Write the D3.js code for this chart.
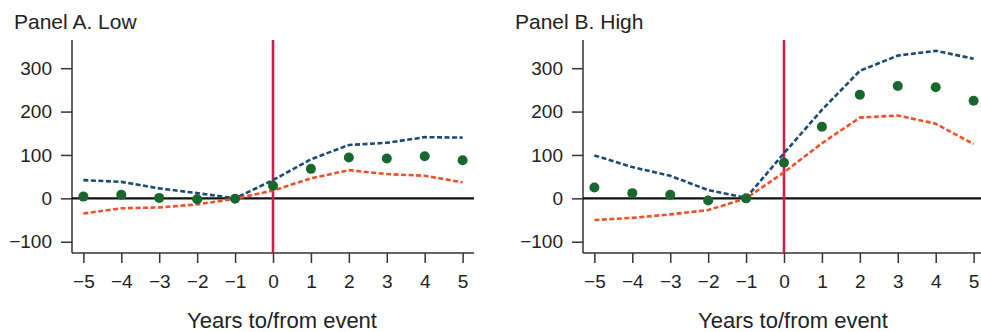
<!DOCTYPE html>
<html>
<head>
<meta charset="utf-8">
<script src="https://cdn.jsdelivr.net/npm/d3@7"></script>
<style>
  body { margin: 0; background: #fff; }
  svg { display: block; }
</style>
</head>
<body>
<svg width="981" height="332"></svg>
<script>
// data
const years = [-5, -4, -3, -2, -1, 0, 1, 2, 3, 4, 5];
const yTicks = [-100, 0, 100, 200, 300];

const lowUpper = [42, 38, 23, 12, 0, 42, 90, 123, 128, 141, 140];
const lowLower = [-35, -23, -21, -14, -1, 18, 46, 65, 56, 52, 37];
const lowPoint = [4, 8, 1, -2, -1, 29, 68, 94, 92, 97, 88];

const highUpper = [99, 72, 52, 19, 1, 104, 204, 294, 329, 340, 322];
const highLower = [-50, -45, -37, -27, 0, 60, 127, 186, 191, 172, 125];
const highPoint = [25, 12, 8, -5, 0, 82, 165, 239, 259, 256, 225];

const panels = [
    { title: 'Panel A. Low', left: 72, titleX: 14, upper: lowUpper, lower: lowLower, point: lowPoint },
    { title: 'Panel B. High', left: 583, titleX: 515, upper: highUpper, lower: highLower, point: highPoint }
];

const font = '"Liberation Sans", Arial, Helvetica, sans-serif';
const svg = d3.select('svg').attr('font-family', font);
const plotTop = 40, plotBottom = 253, plotW = 402;
const fmt = d => (d < 0 ? '\u2212' + Math.abs(d) : String(d));

let y = d3.scaleLinear()
    .domain([-126, 365])
    .range([plotBottom, plotTop]);

panels.forEach(p => {
    let x = d3.scaleLinear()
        .domain([-5.3, 5.3])
        .range([p.left, p.left + plotW]);

    let g = svg.append('g');

    g.append('text')
        .attr('x', p.titleX)
        .attr('y', 29)
        .attr('font-size', 21)
        .attr('fill', '#222')
        .text(p.title);

    // y axis
    let yAxis = d3.axisLeft(y)
        .tickValues(yTicks)
        .tickSize(11)
        .tickPadding(9)
        .tickFormat(fmt);
    let yG = g.append('g')
        .attr('transform', `translate(${p.left}, 0)`)
        .call(yAxis);
    yG.select('.domain').remove();
    yG.append('line')
        .attr('x1', 0).attr('x2', 0)
        .attr('y1', plotTop).attr('y2', plotBottom)
        .attr('stroke', '#333').attr('stroke-width', 1.5);

    // x axis
    let xAxis = d3.axisBottom(x)
        .tickValues(years)
        .tickSize(10)
        .tickPadding(12)
        .tickFormat(fmt);
    let xG = g.append('g')
        .attr('transform', `translate(0, ${plotBottom})`)
        .call(xAxis);
    xG.select('.domain').remove();
    xG.append('line')
        .attr('x1', p.left).attr('x2', p.left + plotW)
        .attr('y1', 0).attr('y2', 0)
        .attr('stroke', '#333').attr('stroke-width', 1.5);

    yG.attr('font-family', font).attr('font-size', 19);
    xG.attr('font-family', font).attr('font-size', 19);
    g.selectAll('.tick line').attr('stroke', '#333').attr('stroke-width', 1.5);
    g.selectAll('.tick text').attr('font-size', 19).attr('fill', '#222');

    g.append('text')
        .attr('x', x(0) + 9)
        .attr('y', 328)
        .attr('text-anchor', 'middle')
        .attr('font-size', 22)
        .attr('fill', '#222')
        .text('Years to/from event');

    // zero line
    g.append('line')
        .attr('x1', p.left).attr('x2', p.left + plotW)
        .attr('y1', y(0)).attr('y2', y(0))
        .attr('stroke', '#111').attr('stroke-width', 2.2);

    // event line
    g.append('line')
        .attr('x1', x(0)).attr('x2', x(0))
        .attr('y1', plotTop).attr('y2', plotBottom)
        .attr('stroke', '#c8224a').attr('stroke-width', 2.6);

    let line = d3.line()
        .x((d, i) => x(years[i]))
        .y(d => y(d));

    g.append('path')
        .datum(p.upper)
        .attr('d', line)
        .attr('fill', 'none')
        .attr('stroke', '#1b4a72')
        .attr('stroke-width', 2.6)
        .attr('stroke-dasharray', '5,2.5');

    g.append('path')
        .datum(p.lower)
        .attr('d', line)
        .attr('fill', 'none')
        .attr('stroke', '#f0502a')
        .attr('stroke-width', 2.6)
        .attr('stroke-dasharray', '5,2.5');

    g.append('g')
        .selectAll('circle')
        .data(p.point)
        .enter()
        .append('circle')
        .attr('r', 5)
        .attr('cx', (d, i) => x(years[i]))
        .attr('cy', d => y(d))
        .attr('fill', '#17672f');
});
</script>
</body>
</html>
